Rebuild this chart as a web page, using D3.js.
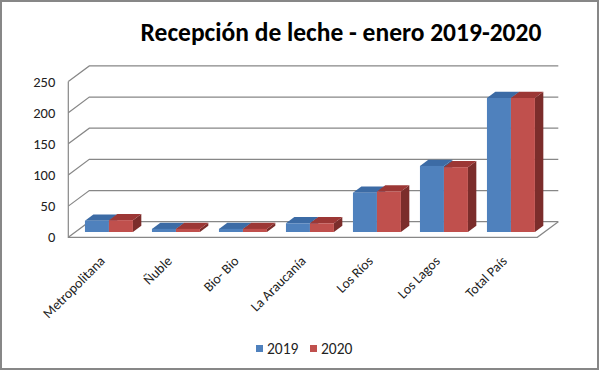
<!DOCTYPE html>
<html>
<head>
<meta charset="utf-8">
<script src="https://cdn.jsdelivr.net/npm/d3@7"></script>
<style>
  body { margin: 0; background: #fff; }
  svg { display: block; font-family: Calibri, Carlito, Lato, sans-serif; }
</style>
</head>
<body>
<script>
// data
var categories = ["Metropolitana", "Ñuble", "Bio- Bio", "La Araucanía", "Los Ríos", "Los Lagos", "Total País"];
var series = ["2019", "2020"];
var values2019 = [18, 5, 5, 14, 63, 106, 215];
var values2020 = [19, 5, 5, 14, 65, 104, 215];
var yTicks = [0, 50, 100, 150, 200, 250];

var colors = {
  "2019": {front: "#4f81bd", top: "#3c6ba5", side: "#35608f"},
  "2020": {front: "#c0504d", top: "#9c3735", side: "#7b2d2b"}
};

var width = 600, height = 371;
var x0 = 68.3, x1 = 537.3;       // front floor edge
var DX = 21, DY = -15.6;          // depth of the box
var barFront = 0.34, barDepth = 0.4;

var svg = d3.select("body").append("svg")
    .attr("width", width)
    .attr("height", height);

svg.append("rect")
    .attr("x", 1).attr("y", 1)
    .attr("width", width - 3).attr("height", height - 3)
    .attr("fill", "#fff")
    .attr("stroke", "#878787")
    .attr("stroke-width", 2);

var y = d3.scaleLinear().domain([0, 250]).range([237.3, 81.5]);

var x = d3.scaleBand()
    .domain(categories)
    .range([x0, x1])
    .paddingInner(0.284)
    .paddingOuter(0.142);

var xs = d3.scaleBand().domain(series).range([0, x.bandwidth()]);

// walls + grid
var grid = svg.append("g")
    .attr("stroke", "#878787")
    .attr("stroke-width", 1.2)
    .attr("fill", "none");

yTicks.forEach(function(t) {
  grid.append("path")
    .attr("d", "M" + x0 + "," + y(t) + "L" + (x0 + DX) + "," + (y(t) + DY)
      + "L" + (x1 + DX) + "," + (y(t) + DY));
});
grid.append("path")
  .attr("d", "M" + x0 + "," + y(250) + "L" + x0 + "," + y(0) + "L" + x1 + "," + y(0)
    + "L" + (x1 + DX) + "," + (y(0) + DY));

// y axis labels
var yAxis = svg.append("g")
    .attr("transform", "translate(" + x0 + ",0)")
    .call(d3.axisLeft(y).tickValues(yTicks).tickSize(0).tickPadding(13));
yAxis.select(".domain").remove();
yAxis.selectAll("text")
    .attr("font-size", 14.5)
    .attr("font-family", "Calibri, Carlito, Lato, sans-serif")
    .attr("fill", "#222");

// bars
var rows = categories.map(function(c, i) {
  return {cat: c, vals: [{s: "2019", v: values2019[i]}, {s: "2020", v: values2020[i]}]};
});

var fdx = barFront * DX, fdy = barFront * DY;
var bdx = barDepth * DX, bdy = barDepth * DY;

var bars = svg.append("g").selectAll("g")
    .data(rows)
  .enter().append("g")
    .attr("transform", function(d) { return "translate(" + (x(d.cat) + fdx) + "," + fdy + ")"; });

var bar = bars.selectAll("g")
    .data(function(d) { return d.vals; })
  .enter().append("g");

bar.append("path")
    .attr("fill", function(d) { return colors[d.s].side; })
    .attr("d", function(d) {
      var xr = xs(d.s) + xs.bandwidth();
      return "M" + xr + "," + y(d.v) + "L" + (xr + bdx) + "," + (y(d.v) + bdy)
        + "L" + (xr + bdx) + "," + (y(0) + bdy) + "L" + xr + "," + y(0) + "Z";
    });

bar.append("path")
    .attr("fill", function(d) { return colors[d.s].top; })
    .attr("d", function(d) {
      var xl = xs(d.s), xr = xl + xs.bandwidth();
      return "M" + xl + "," + y(d.v) + "L" + xr + "," + y(d.v)
        + "L" + (xr + bdx) + "," + (y(d.v) + bdy) + "L" + (xl + bdx) + "," + (y(d.v) + bdy) + "Z";
    });

bar.append("rect")
    .attr("fill", function(d) { return colors[d.s].front; })
    .attr("x", function(d) { return xs(d.s); })
    .attr("y", function(d) { return y(d.v); })
    .attr("width", xs.bandwidth())
    .attr("height", function(d) { return y(0) - y(d.v); });

// category labels
svg.append("g").selectAll("text")
    .data(categories)
  .enter().append("text")
    .attr("transform", function(d) {
      return "translate(" + (x(d) + x.bandwidth() / 2 - 3) + ",255) rotate(-45)";
    })
    .attr("text-anchor", "end")
    .attr("dy", "0.71em")
    .attr("font-size", 13.8)
    .attr("fill", "#222")
    .text(function(d) { return d; });

// title
svg.append("text")
    .attr("x", 341)
    .attr("y", 41)
    .attr("text-anchor", "middle")
    .attr("font-size", 25.5)
    .attr("font-weight", "bold")
    .attr("fill", "#000")
    .text("Recepción de leche - enero 2019-2020");

// legend
var legend = svg.append("g").selectAll("g")
    .data(series)
  .enter().append("g")
    .attr("transform", function(d, i) { return "translate(" + (256 + i * 54) + ",345)"; });

legend.append("rect")
    .attr("width", 7).attr("height", 7)
    .attr("fill", function(d) { return colors[d].front; });

legend.append("text")
    .attr("x", 11)
    .attr("y", 8.5)
    .attr("font-size", 15.5)
    .attr("fill", "#222")
    .text(function(d) { return d; });
</script>
</body>
</html>
